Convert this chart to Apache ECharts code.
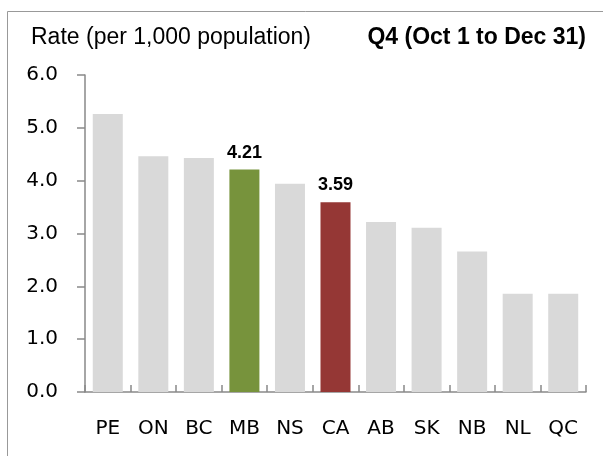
<!DOCTYPE html>
<html>
<head>
<meta charset="utf-8">
<script src="https://cdn.jsdelivr.net/npm/echarts@6/dist/echarts.min.js"></script>
<style>html,body{margin:0;padding:0;background:#fff}#c{width:603px;height:456px}</style>
</head>
<body>
<div id="c"></div>
<script>
var categories = ['PE','ON','BC','MB','NS','CA','AB','SK','NB','NL','QC'];
var rates = [5.26, 4.46, 4.43, 4.21, 3.94, 3.59, 3.22, 3.11, 2.66, 1.86, 1.86];
var highlight = {MB: '#77933c', CA: '#953735'};
var yTicks = [0, 1, 2, 3, 4, 5, 6];

var chart = echarts.init(document.getElementById('c'), null, {renderer: 'canvas'});
var data = rates.map(function (v, i) {
  var c = categories[i];
  var item = {value: v, itemStyle: {color: highlight[c] || '#d9d9d9'}};
  if (highlight[c]) {
    item.label = {show: true, position: 'top', distance: 8, formatter: function (p) { return p.value.toFixed(2); },
      fontFamily: 'Liberation Sans', fontWeight: 'bold', fontSize: 18, color: '#000'};
  }
  return item;
});
chart.setOption({
  animation: false,
  backgroundColor: '#fff',
  graphic: [{type: 'rect', shape: {x: 7.5, y: 11.5, width: 700, height: 600}, style: {fill: 'none', stroke: '#999', lineWidth: 1}, z: -1}],
  title: [
    {text: 'Rate (per 1,000 population)', left: 31, top: 26, padding: 0,
     textStyle: {fontFamily: 'Liberation Sans', fontWeight: 'normal', fontSize: 23, color: '#000'}},
    {text: 'Q4 (Oct 1 to Dec 31)', right: 17, top: 26, padding: 0,
     textStyle: {fontFamily: 'Liberation Sans', fontWeight: 'bold', fontSize: 23, color: '#000'}}
  ],
  grid: {left: 85, right: 17, top: 75, bottom: 64, containLabel: false},
  xAxis: {
    type: 'category', data: categories,
    axisLine: {lineStyle: {color: '#898989', width: 1.5}},
    axisTick: {show: true, inside: true, length: 7, lineStyle: {color: '#898989', width: 1.5}},
    axisLabel: {margin: 27, fontFamily: 'DejaVu Sans', fontSize: 20, color: '#000', interval: 0}
  },
  yAxis: {
    type: 'value', min: yTicks[0], max: yTicks[yTicks.length - 1], interval: 1,
    axisLine: {show: true, lineStyle: {color: '#898989', width: 1.5}},
    axisTick: {show: true, inside: false, length: 8, lineStyle: {color: '#898989', width: 1.5}},
    splitLine: {show: false},
    axisLabel: {margin: 27, fontFamily: 'DejaVu Sans', fontSize: 20, color: '#000', formatter: function (v) { return v.toFixed(1); }}
  },
  series: [{type: 'bar', data: data, barWidth: 30}]
});
</script>
</body>
</html>
